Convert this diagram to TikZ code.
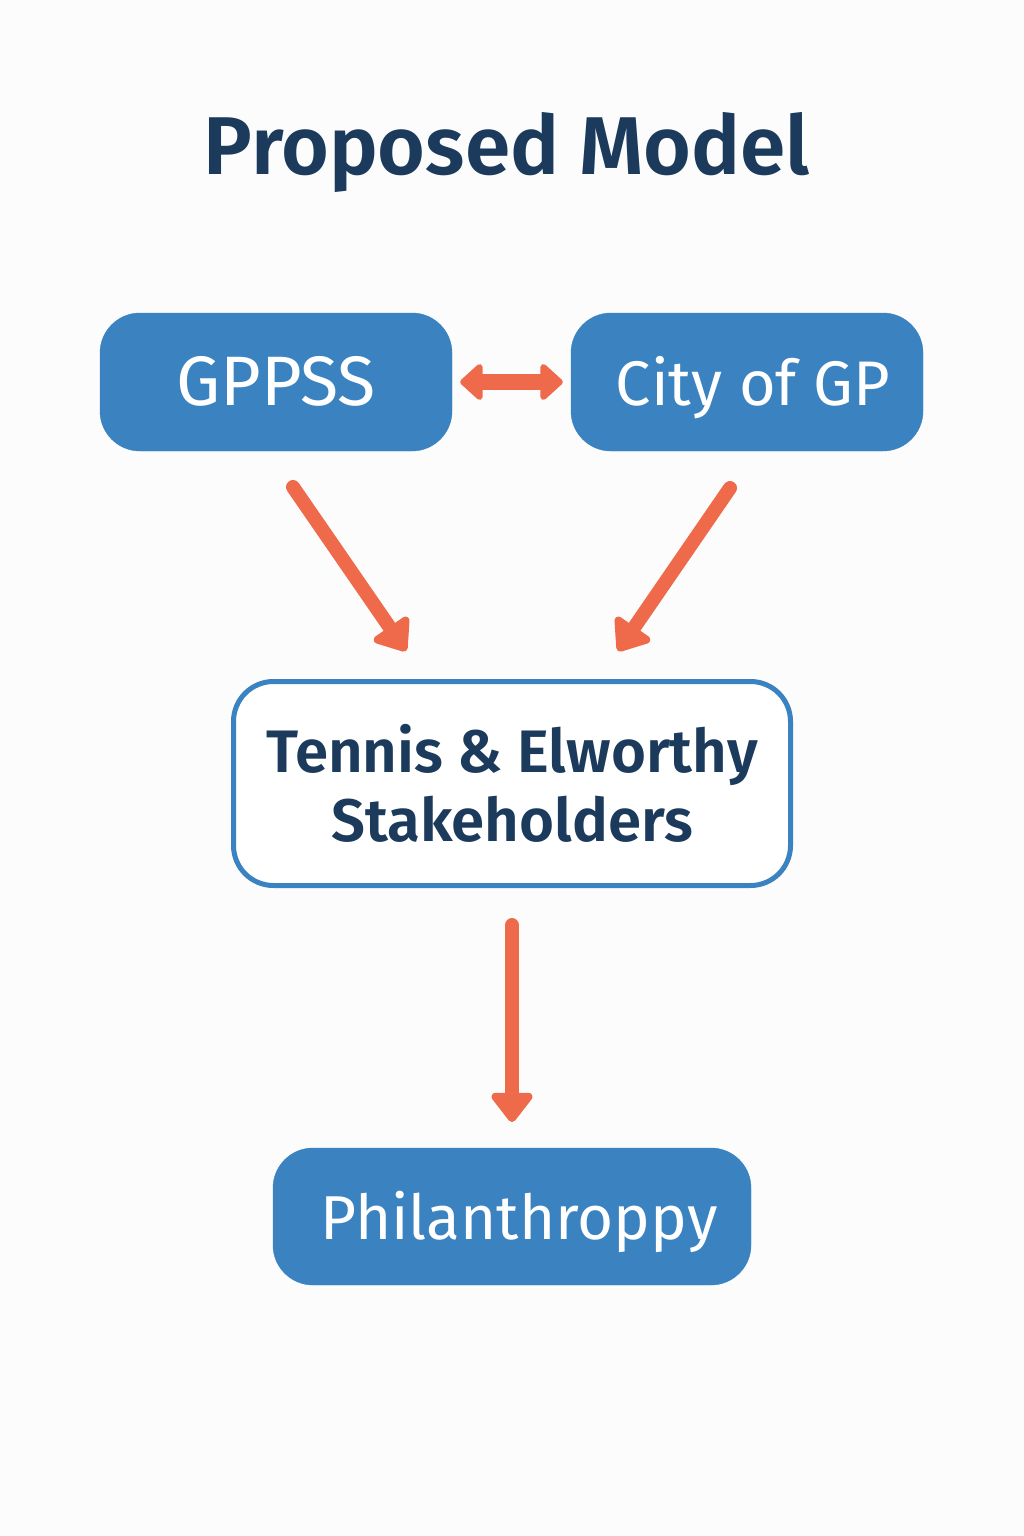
\documentclass[tikz,border=0pt]{standalone}
\usepackage{fontspec}
\setmainfont{Fira Sans}
\newfontfamily\semib{Fira Sans SemiBold}
\usetikzlibrary{arrows.meta,calc}
\definecolor{boxblue}{HTML}{3A82C0}
\definecolor{arrowred}{HTML}{EE6A4A}
\definecolor{navy}{HTML}{1B3A5C}
\definecolor{bgc}{HTML}{FCFCFC}
\tikzset{
  solidbox/.style={fill=boxblue, draw=boxblue, rounded corners=40pt, text=white,
    font=\fontsize{65}{70}\selectfont, text height=46pt, text depth=0pt, inner sep=0pt},
  outlinebox/.style={fill=white, draw=boxblue, line width=5pt, rounded corners=40pt, text=navy,
    font=\semib\fontsize{60}{69}\selectfont, align=center, inner sep=0pt},
  arr/.style={draw=arrowred, line width=14pt, line cap=round}
}
\begin{document}
\begin{tikzpicture}[x=1pt,y=-1pt]
\fill[bgc] (0,0) rectangle (1024,1536);
\useasboundingbox (0,0) rectangle (1024,1536);
\node[text=navy, font=\semib\fontsize{82}{90}\selectfont, anchor=base] (title) at (507,175) {Proposed Model};
\node[solidbox, minimum width=352pt, minimum height=138pt] (gppss) at (276,382) {\fontsize{70}{70}\selectfont GPPSS};
\node[solidbox, minimum width=352pt, minimum height=138pt] (city) at (747,382) {\hspace*{12pt}\fontsize{63}{70}\selectfont City of GP};
\node[outlinebox, minimum width=557pt, minimum height=204pt] (mid) at (512,783.5) {Tennis \& Elworthy\\Stakeholders};
\node[solidbox, minimum width=478pt, minimum height=137pt] (phil) at (512,1216.5) {\hspace*{14pt}\fontsize{62}{70}\selectfont Philanthroppy};
\coordinate (s1) at (293,487);
\coordinate (e1) at (406,651);
\coordinate (s2) at (730,488);
\coordinate (e2) at (618,651);
\coordinate (s3) at (512,925);
\coordinate (e3) at (512,1122);
\draw[arr, line width=16pt, line cap=butt, {Triangle[length=24pt, width=42pt, round]}-{Triangle[length=24pt, width=42pt, round]}, shorten <=8pt, shorten >=8pt] (gppss.east) -- (city.west);
\draw[arr, -{Triangle[length=32pt, width=48pt, round]}] (s1) -- (e1);
\draw[arr, -{Triangle[length=32pt, width=48pt, round]}] (s2) -- (e2);
\draw[arr, -{Triangle[length=32pt, width=47pt, round]}] (s3) -- (e3);
\end{tikzpicture}
\end{document}
